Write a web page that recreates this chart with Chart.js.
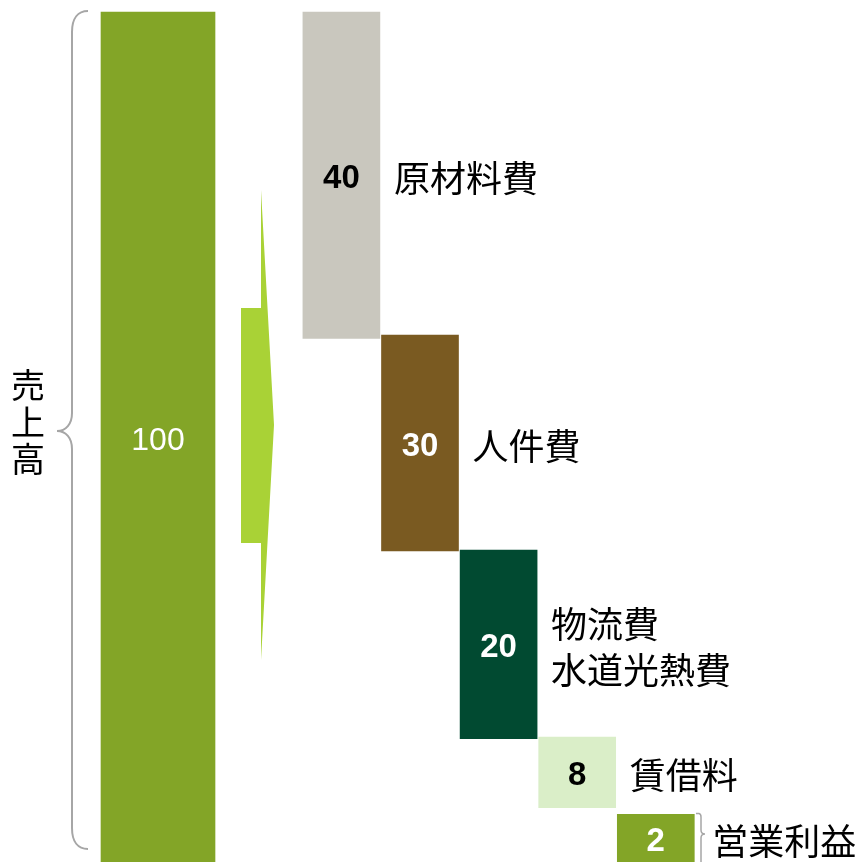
<!DOCTYPE html>
<html lang="ja">
<head>
<meta charset="utf-8">
<title>売上高の内訳</title>
<script src="https://cdn.jsdelivr.net/npm/chart.js"></script>
<style>
  html, body { margin: 0; padding: 0; background: #fff; }
  #wrap { width: 863px; height: 862px; position: relative; }
</style>
</head>
<body>
<div id="wrap"><canvas id="costChart"></canvas></div>
<script>
// sales = 100, split into cost blocks
const salesLabel = '売上高';
const salesValue = 100;

const costLabels = ['原材料費', '人件費', ['物流費', '水道光熱費'], '賃借料', '営業利益'];
const costValues = [40, 30, 20, 8, 2];
// drawn extent of each block on the 0-100 axis
const costLows  = [61.6, 36.6, 14.5, 6.4, 0];
const costHighs = [100, 62.0, 36.7, 14.7, 5.6];

// styles
const SALES_COLOR = '#83A527';
const costColors = ['#C9C7BE', '#7A5A21', '#014A31', '#DAEEC8', '#83A527'];
const costTextColors = ['#000', '#fff', '#fff', '#000', '#fff'];
const JP_FONT = '"Noto Sans CJK JP", "Noto Sans CJK SC", sans-serif';
const NUM_FONT = '"Liberation Sans", Arial, sans-serif';

// slot layout on the category axis: sales in slot 0, costs every 3rd slot from 7
const SLOT_COUNT = 20;
const COST_FIRST = 7;
const COST_STEP = 3;
const costSlot = (i) => COST_FIRST + i * COST_STEP;

const slotLabels = Array.from({ length: SLOT_COUNT }, (_, k) => 'slot' + k);
slotLabels[0] = salesLabel;
costLabels.forEach((l, i) => { slotLabels[costSlot(i)] = [].concat(l).join(''); });

const salesData = Array(SLOT_COUNT).fill(null);
salesData[0] = salesValue;

const costData = Array(SLOT_COUNT).fill(null);
const costBg = Array(SLOT_COUNT).fill('transparent');
costValues.forEach((v, i) => {
  costData[costSlot(i)] = [costLows[i], costHighs[i]];
  costBg[costSlot(i)] = costColors[i];
});

// arrow, braces and the text labels
const decorPlugin = {
  id: 'decor',
  beforeDatasetsDraw(chart) {
    const ctx = chart.ctx;
    ctx.save();

    // light green arrow between the sales bar and the cost blocks
    ctx.fillStyle = '#A9D236';
    ctx.beginPath();
    ctx.moveTo(261, 190);
    ctx.lineTo(274, 425);
    ctx.lineTo(261, 660);
    ctx.lineTo(261, 543);
    ctx.lineTo(241, 543);
    ctx.lineTo(241, 308);
    ctx.lineTo(261, 308);
    ctx.closePath();
    ctx.fill();

    // big brace left of the sales bar
    ctx.strokeStyle = '#A6A6A6';
    ctx.lineWidth = 2;
    ctx.beginPath();
    ctx.moveTo(88, 11);
    ctx.bezierCurveTo(78, 11, 72, 18, 72, 32);
    ctx.lineTo(72, 413);
    ctx.bezierCurveTo(72, 424, 66, 431, 57, 431);
    ctx.bezierCurveTo(66, 431, 72, 438, 72, 449);
    ctx.lineTo(72, 828);
    ctx.bezierCurveTo(72, 842, 78, 849, 88, 849);
    ctx.stroke();

    // small brace for 営業利益
    ctx.lineWidth = 1.5;
    ctx.beginPath();
    ctx.moveTo(696, 813.5);
    ctx.lineTo(699, 813.5);
    ctx.quadraticCurveTo(701, 814, 701, 817);
    ctx.lineTo(701, 830);
    ctx.quadraticCurveTo(701, 834, 705, 834);
    ctx.moveTo(701, 838);
    ctx.quadraticCurveTo(701, 834, 705, 834);
    ctx.moveTo(701, 838);
    ctx.lineTo(701, 864);
    ctx.stroke();

    // vertical 売上高
    ctx.fillStyle = '#000';
    ctx.font = '34px ' + JP_FONT;
    ctx.textAlign = 'center';
    ctx.textBaseline = 'middle';
    [...salesLabel].forEach((ch, k) => ctx.fillText(ch, 28, 385 + k * 37));
    ctx.restore();
  },
  afterDatasetsDraw(chart) {
    const ctx = chart.ctx;
    ctx.save();
    ctx.textBaseline = 'middle';

    const sBar = chart.getDatasetMeta(0).data[0];
    ctx.textAlign = 'center';
    ctx.fillStyle = '#fff';
    ctx.font = '32px ' + NUM_FONT;
    ctx.fillText(String(salesValue), sBar.x, (sBar.y + sBar.base) / 2 + 4);

    const meta = chart.getDatasetMeta(1);
    costValues.forEach((v, i) => {
      const bar = meta.data[costSlot(i)];
      const midY = (bar.y + bar.base) / 2 + 3;
      ctx.textAlign = 'center';
      ctx.fillStyle = costTextColors[i];
      ctx.font = 'bold 33px ' + NUM_FONT;
      ctx.fillText(String(v), bar.x, midY + 1);

      const lines = [].concat(costLabels[i]);
      const left = bar.x + bar.width / 2 + (i === costValues.length - 1 ? 18 : 14);
      ctx.textAlign = 'left';
      ctx.fillStyle = '#000';
      ctx.font = '36px ' + JP_FONT;
      lines.forEach((t, k) => {
        ctx.fillText(t, left, midY + (k - (lines.length - 1) / 2) * 46);
      });
    });
    ctx.restore();
  }
};

new Chart(document.getElementById('costChart').getContext('2d'), {
  type: 'bar',
  data: {
    labels: slotLabels,
    datasets: [
      {
        label: salesLabel,
        data: salesData,
        backgroundColor: SALES_COLOR,
        barThickness: 114
      },
      {
        label: '費用',
        data: costData,
        backgroundColor: costBg,
        barThickness: 77
      }
    ]
  },
  options: {
    responsive: true,
    maintainAspectRatio: false,
    animation: false,
    layout: { padding: { top: 12, bottom: 0, left: 144.9, right: 194.1 } },
    datasets: { bar: { grouped: false, skipNull: true, borderWidth: 0, clip: false } },
    scales: {
      x: { display: false, offset: true },
      y: { display: false, min: 0, max: 100 }
    },
    plugins: {
      legend: { display: false },
      tooltip: { enabled: false }
    }
  },
  plugins: [decorPlugin]
});
</script>
</body>
</html>
